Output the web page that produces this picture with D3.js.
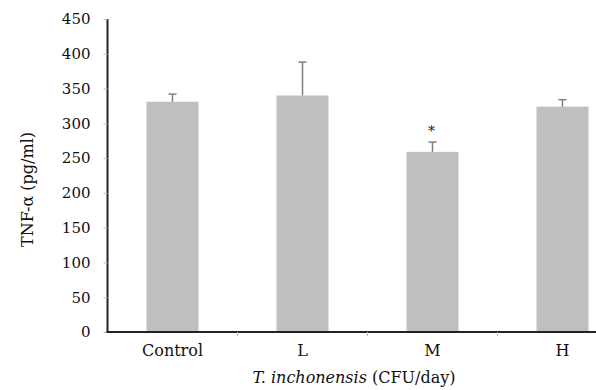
<!DOCTYPE html>
<html>
<head>
<meta charset="utf-8">
<script src="https://cdn.jsdelivr.net/npm/d3@7"></script>
<style>
  body { margin: 0; background: #fff; }
  svg { display: block; }
</style>
</head>
<body>
<svg id="chart"></svg>
<script>
const groups = ["Control", "L", "M", "H"];
const means = [331, 340, 259, 324];
const errors = [11, 48, 14, 10];
const marks = ["", "", "*", ""];
const yTicks = [0, 50, 100, 150, 200, 250, 300, 350, 400, 450];

const width = 596, height = 390;
const margin = { top: 19, left: 107.5, bottom: 58 };
const plotRight = 627.5; // the axis runs off the right edge, as in the picture

const svg = d3.select("#chart")
    .attr("width", width)
    .attr("height", height)
    .attr("font-family", "'DejaVu Serif', serif");

const x = d3.scaleBand(groups, [margin.left, plotRight]).paddingInner(0.6).paddingOuter(0.3);
const xTick = d3.scaleBand(groups, [margin.left, plotRight]);
const y = d3.scaleLinear([0, 450], [height - margin.bottom, margin.top]);

// bars
svg.append("g")
    .selectAll("rect")
    .data(groups)
    .join("rect")
    .attr("x", d => x(d))
    .attr("width", x.bandwidth())
    .attr("y", (d, i) => y(means[i]))
    .attr("height", (d, i) => y(0) - y(means[i]))
    .attr("fill", "#bfbfbf");

// error bars (upper only)
const eb = svg.append("g").attr("stroke", "#7f7f7f").attr("stroke-width", 1.5);
groups.forEach((g, i) => {
    const cx = x(g) + x.bandwidth() / 2;
    eb.append("line").attr("x1", cx).attr("x2", cx)
        .attr("y1", y(means[i])).attr("y2", y(means[i] + errors[i]));
    eb.append("line").attr("x1", cx - 4).attr("x2", cx + 4)
        .attr("y1", y(means[i] + errors[i])).attr("y2", y(means[i] + errors[i]));
});

// significance marks
svg.append("g")
    .selectAll("text")
    .data(groups)
    .join("text")
    .attr("x", d => x(d) + x.bandwidth() / 2 - 1)
    .attr("y", (d, i) => y(means[i] + errors[i]) - 6)
    .attr("text-anchor", "middle")
    .attr("font-size", 14)
    .attr("fill", "#222")
    .text((d, i) => marks[i]);

// y axis
const gy = svg.append("g")
    .attr("transform", `translate(${margin.left},0)`)
    .call(d3.axisLeft(y).tickValues(yTicks).tickSize(4).tickPadding(13))
    .attr("font-family", "'DejaVu Serif', serif")
    .attr("font-size", 15);
gy.select(".domain").attr("stroke", "#222").attr("stroke-width", 2)
    .attr("d", `M0,${y(0)}V${y(450)}`);
gy.selectAll(".tick line").attr("stroke", "#bbb");
gy.selectAll(".tick text").attr("fill", "#111");

// x axis
const gx = svg.append("g")
    .attr("transform", `translate(0,${y(0)})`)
    .call(d3.axisBottom(xTick).tickSize(0).tickPadding(13))
    .attr("font-family", "'DejaVu Serif', serif")
    .attr("font-size", 16);
gx.select(".domain").attr("stroke", "#222").attr("stroke-width", 2)
    .attr("d", `M${margin.left - 1},0H${plotRight}`);
gx.selectAll(".tick text").attr("fill", "#111");

// category boundary ticks
svg.append("g")
    .selectAll("line")
    .data(groups.slice(1))
    .join("line")
    .attr("x1", d => xTick(d)).attr("x2", d => xTick(d))
    .attr("y1", y(0)).attr("y2", y(0) + 4)
    .attr("stroke", "#bbb");

// axis titles
svg.append("text")
    .attr("transform", `translate(27,${(y(0) + y(450)) / 2 + 14}) rotate(-90)`)
    .attr("text-anchor", "middle")
    .attr("dy", "0.35em")
    .attr("font-size", 16)
    .attr("fill", "#111")
    .text("TNF-α (pg/ml)");

const xt = svg.append("text")
    .attr("x", 354)
    .attr("y", 383)
    .attr("text-anchor", "middle")
    .attr("font-size", 16)
    .attr("fill", "#111");
xt.append("tspan").attr("font-style", "italic").text("T. inchonensis");
xt.append("tspan").text(" (CFU/day)");
</script>
</body>
</html>
